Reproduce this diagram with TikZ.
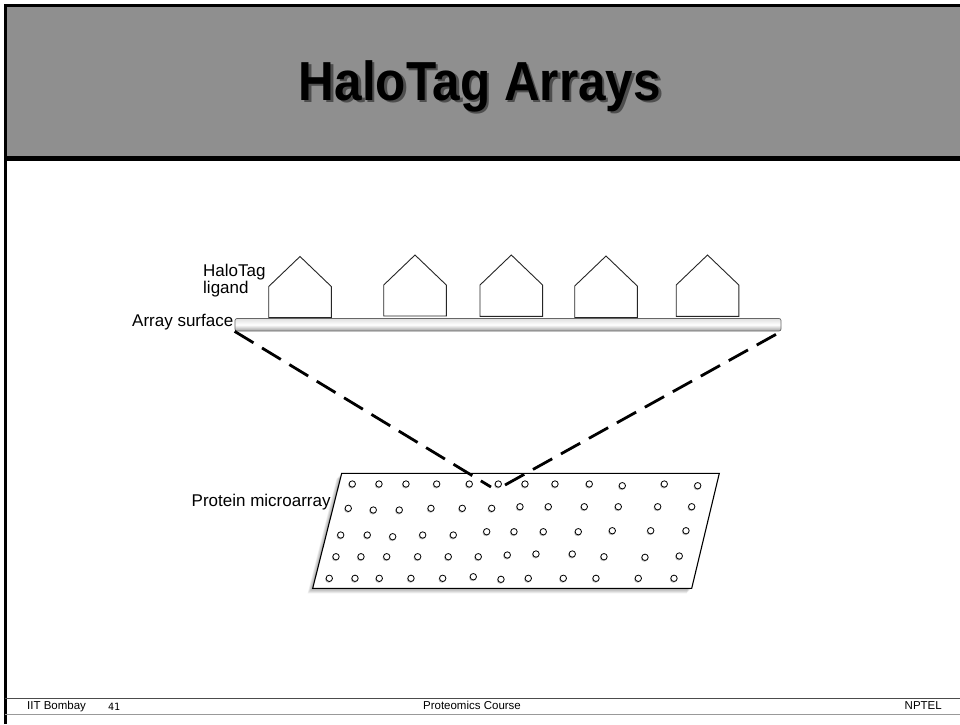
\documentclass[tikz,border=0pt]{standalone}
\usepackage{fontspec}
\setmainfont{Liberation Sans}
\newfontfamily\monof{DejaVu Sans Mono}
\definecolor{titlegray}{RGB}{143,143,143}
\begin{document}
\begin{tikzpicture}[x=1pt,y=-1pt,
  house/.style={draw=black!85, line width=0.9pt, fill=white, line join=miter},
  lbl/.style={inner sep=0pt, font=\fontsize{17}{20}\selectfont},
  dashline/.style={line width=2.8pt, dash pattern=on 22pt off 10pt},
  spot/.style={draw=black, line width=0.8pt, fill=white},
  spotshadow/.style={fill=black, opacity=0.25},
  bar/.style={draw=black!60, line width=0.7pt, top color=gray!25, bottom color=gray!75, middle color=white, rounded corners=2pt, minimum width=546pt, minimum height=12.5pt, inner sep=0pt},
  foot/.style={inner sep=0pt, font=\fontsize{11.5}{13}\selectfont},
  titletext/.style={inner sep=0pt, anchor=base, font=\fontsize{55}{64}\selectfont\bfseries}]
\useasboundingbox (0,0) rectangle (960,724);
\fill[white] (0,0) rectangle (960,724);
% title band
\fill[titlegray] (5,5) rectangle (960,158);
\draw[line width=2.5pt] (5.3,724) -- (5.3,5.3) -- (960,5.3);
\draw[line width=5pt] (4,158) -- (960,158);
\node[titletext, text=black, opacity=0.45] (titleshadow) at (482.5,102.5) {\scalebox{0.9}[1]{HaloTag Arrays}};
\node[titletext, text=black] (title) at (480,100) {\scalebox{0.9}[1]{HaloTag Arrays}};
% footer
\draw[line width=1.3pt, black!70] (5,698.5) -- (960,698.5);
\draw[line width=1.3pt, black!40] (5,714.5) -- (960,714.5);
\node[foot, anchor=base west] (f1) at (27,709) {IIT Bombay};
\node[foot, anchor=base west, font=\monof\fontsize{10}{12}\selectfont] (f2) at (108,710) {41};
\node[foot, anchor=base] (f3) at (472,709) {Proteomics Course};
\node[foot, anchor=base east] (f4) at (942,709) {NPTEL};
% houses
\foreach \ax/\ty/\by in {300/256.5/317.5, 415/255/316, 511.3/255/316.3, 606/256/317.5, 707.5/255/316.3}
  \draw[house] ({\ax-31.3},\by) -- ({\ax-31.3},{\ty+30}) -- (\ax,\ty) -- ({\ax+31.3},{\ty+30}) -- ({\ax+31.3},\by) -- cycle;
% array surface bar
\node[bar] (surface) at (508,324.75) {};
% labels
\node[lbl, anchor=base west] (halo1) at (203,276) {HaloTag};
\node[lbl, anchor=base west] (halo2) at (203,293) {ligand};
\node[lbl, anchor=base east] (arraylbl) at (233.5,326) {Array surface};
\node[lbl, anchor=base west] (protlbl) at (191.5,506) {Protein microarray};
% microarray slide shadow
\foreach \i in {1,...,5}
  \fill[black, opacity=0.07] ({341.7-1.0*\i},{473.3+1.0*\i}) -- ({719.3-1.0*\i},{473.3+1.0*\i}) -- ({691.7-1.0*\i},{588.3+1.0*\i}) -- ({312.7-1.0*\i},{588.3+1.0*\i}) -- cycle;
\draw[fill=white, line width=1.1pt] (341.7,473.3) coordinate (pa) -- (719.3,473.3) coordinate (pb) -- (691.7,588.3) coordinate (pc) -- (312.7,588.3) coordinate (pd) -- cycle;
% spots
\foreach \x/\y in {
 352.3/484, 379/484, 406/484, 436.7/484, 469.3/484, 498.3/484, 525/484, 555/484, 589.3/484, 622.3/485.7, 664.3/484, 697.7/485.7,
 348.3/508.3, 373.3/510, 399.3/510, 431/508.3, 462.3/508.3, 491.7/508.3, 520/506.7, 548.3/506.7, 584.3/506.7, 618.3/506.7, 657.7/506.7, 691.7/506.7,
 340.7/535, 367.3/535, 392.7/536.7, 422.7/535, 453.3/535, 486.7/531.7, 514/531.7, 543.3/531.7, 578.3/531.7, 612.3/530.7, 650.7/530.7, 686/530.7,
 336/556.7, 361/556.7, 386.7/556.7, 417.7/556.7, 448.3/556.7, 478.3/556.7, 507.3/555, 536/554, 572.3/554, 604/556.7, 645/557.3, 679.3/556,
 329.3/578.3, 355/578.3, 379.3/578.3, 411/578.3, 442.7/578.3, 473.3/576.7, 501/579.3, 528.3/578.3, 563.3/578.3, 596/578.3, 638.3/578.3, 674/578.3}
{
  \fill[spotshadow] (\x-0.6,\y+0.9) circle (3.6pt);
  \draw[spot] (\x,\y) circle (3.2pt);
}
% zoom lines
\coordinate (focusL) at (491,487);
\coordinate (focusR) at (505,485);
\draw[dashline] (surface.south west) -- (focusL);
\draw[dashline] (focusR) -- (surface.south east);
\end{tikzpicture}
\end{document}
